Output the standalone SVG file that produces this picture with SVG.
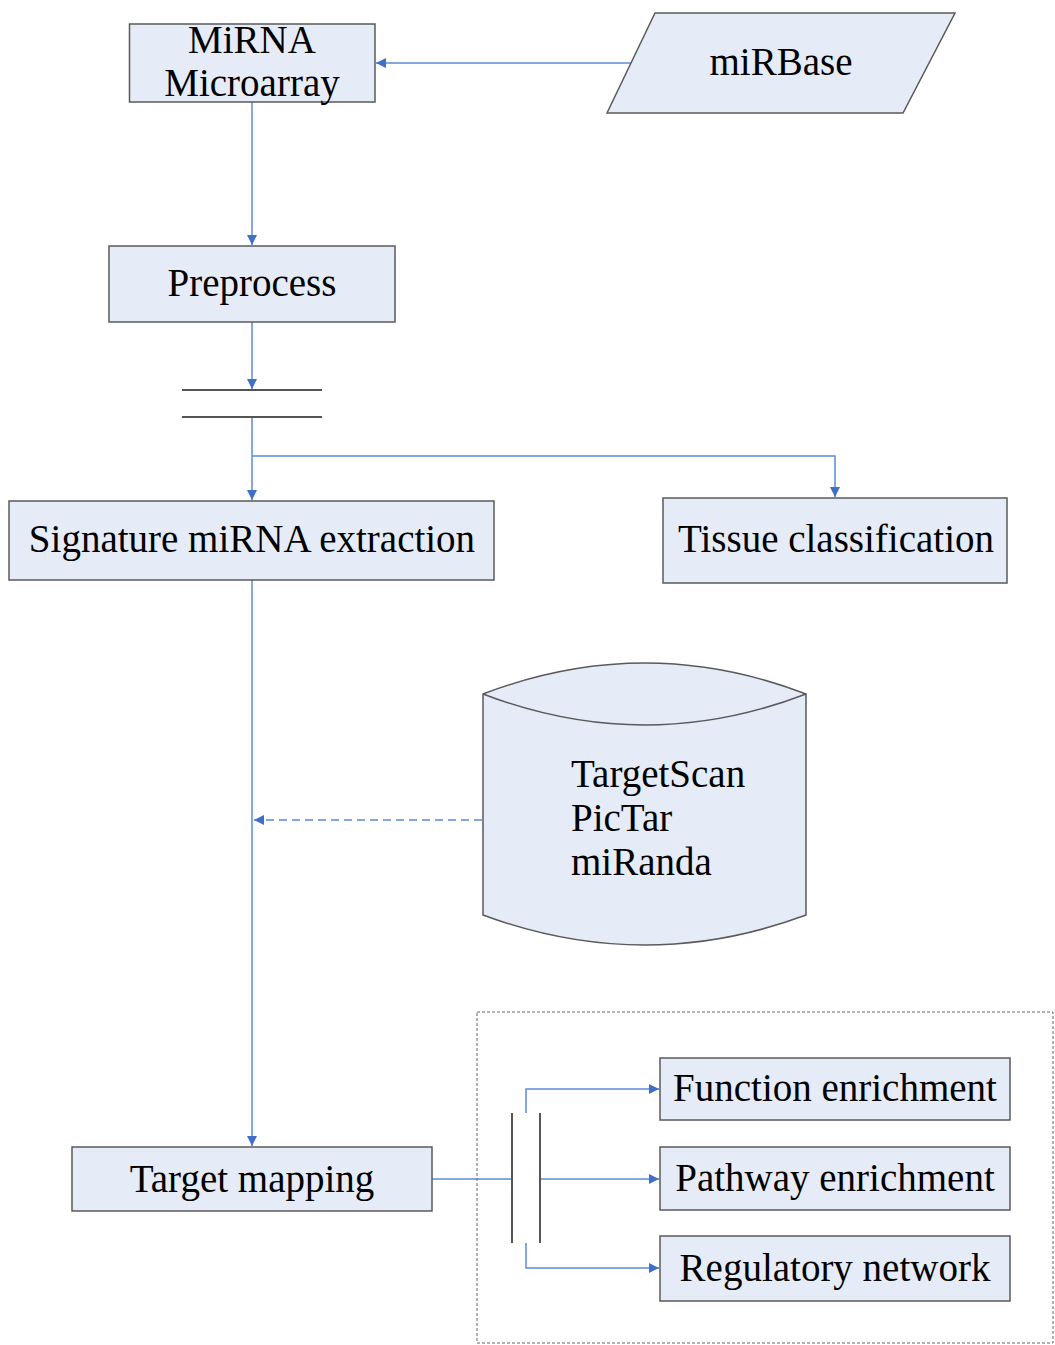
<svg xmlns="http://www.w3.org/2000/svg" width="1055" height="1345" viewBox="0 0 1055 1345">
<style>
.box{fill:#E6ECF7;stroke:#5a5a5a;stroke-width:1.5}
.t{font-family:"Liberation Serif","Times New Roman",serif;font-size:39px;fill:#000}
.c{stroke:#5B8BD6;stroke-width:1.5;fill:none}
.bar{stroke:#555;stroke-width:2;fill:none}
</style>
<defs>
<marker id="ah" viewBox="0 0 10 10" refX="10" refY="5" markerWidth="11" markerHeight="10" markerUnits="userSpaceOnUse" orient="auto">
<path d="M0,0 L10,5 L0,10 z" fill="#3F6FC6"/>
</marker>
</defs>
<rect width="1055" height="1345" fill="#fff"/>
<g id="connectors">
<line class="c" x1="633" y1="63" x2="376" y2="63" marker-end="url(#ah)"/>
<line class="c" x1="252" y1="102" x2="252" y2="245" marker-end="url(#ah)"/>
<line class="c" x1="252" y1="322" x2="252" y2="389" marker-end="url(#ah)"/>
<line class="c" x1="252" y1="417" x2="252" y2="500" marker-end="url(#ah)"/>
<polyline class="c" points="252,456 835,456 835,497" marker-end="url(#ah)"/>
<line class="c" x1="252" y1="580" x2="252" y2="1146" marker-end="url(#ah)"/>
<line class="c" x1="482" y1="820" x2="254" y2="820" stroke-dasharray="8,5" marker-end="url(#ah)"/>
<line class="c" x1="432" y1="1179" x2="512" y2="1179"/>
<line class="c" x1="540" y1="1179" x2="659" y2="1179" marker-end="url(#ah)"/>
<polyline class="c" points="526,1113 526,1089 659,1089" marker-end="url(#ah)"/>
<polyline class="c" points="526,1243 526,1268 659,1268" marker-end="url(#ah)"/>
</g>
<g id="sync-bar-1">
<line class="bar" x1="182" y1="390" x2="322" y2="390"/>
<line class="bar" x1="182" y1="417" x2="322" y2="417"/>
</g>
<g id="sync-bar-2">
<line class="bar" x1="512" y1="1113" x2="512" y2="1243"/>
<line class="bar" x1="540" y1="1113" x2="540" y2="1243"/>
</g>
<g id="group-box">
<rect x="477" y="1012" width="576" height="331" fill="none" stroke="#666" stroke-width="1" stroke-dasharray="3,2"/>
</g>
<g id="mirna-microarray">
<rect class="box" x="129.5" y="24" width="245.5" height="78"/>
<text class="t" x="252" y="53" text-anchor="middle">MiRNA</text>
<text class="t" x="252" y="96" text-anchor="middle">Microarray</text>
</g>
<g id="mirbase">
<polygon class="box" points="607,113 655,13 955,13 903,113"/>
<text class="t" x="781" y="75" text-anchor="middle">miRBase</text>
</g>
<g id="preprocess">
<rect class="box" x="109" y="246" width="286" height="76"/>
<text class="t" x="252" y="296" text-anchor="middle">Preprocess</text>
</g>
<g id="signature">
<rect class="box" x="9" y="501" width="485" height="79"/>
<text class="t" x="252" y="552" text-anchor="middle">Signature miRNA extraction</text>
</g>
<g id="tissue">
<rect class="box" x="663" y="498" width="344" height="85"/>
<text class="t" x="836" y="552" text-anchor="middle">Tissue classification</text>
</g>
<g id="databases">
<path class="box" d="M483,694 Q645,632 806,694 L806,915 Q645,975 483,915 Z"/>
<path d="M483,694 Q645,756 806,694" fill="none" stroke="#5a5a5a" stroke-width="1.5"/>
<text class="t" x="571" y="787">TargetScan</text>
<text class="t" x="571" y="831">PicTar</text>
<text class="t" x="571" y="875">miRanda</text>
</g>
<g id="target-mapping">
<rect class="box" x="72" y="1147" width="360" height="64"/>
<text class="t" x="252" y="1192" text-anchor="middle">Target mapping</text>
</g>
<g id="function">
<rect class="box" x="660" y="1058" width="350" height="62"/>
<text class="t" x="835" y="1101" text-anchor="middle">Function enrichment</text>
</g>
<g id="pathway">
<rect class="box" x="660" y="1147" width="350" height="63"/>
<text class="t" x="835" y="1191" text-anchor="middle">Pathway enrichment</text>
</g>
<g id="regulatory">
<rect class="box" x="660" y="1236" width="350" height="65"/>
<text class="t" x="835" y="1281" text-anchor="middle">Regulatory network</text>
</g>
</svg>
